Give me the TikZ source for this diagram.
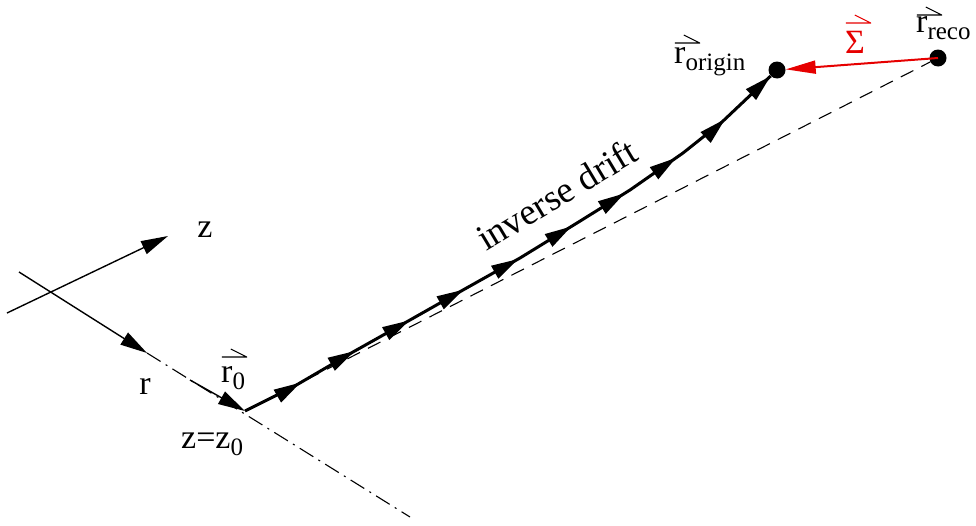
\documentclass[tikz,border=0pt]{standalone}
\usepackage{fontspec}
\setmainfont{Liberation Serif}
\usepackage{xcolor}
\definecolor{sigmared}{RGB}{230, 0, 0}
\usepackage{tikz}
\usetikzlibrary{arrows.meta, decorations.markings}
% harpoon over a letter: [colour]{height}{letter}
\newcommand{\hvec}[3][black]{\makebox[0pt][l]{\tikz[x=1pt, y=1pt, baseline=0pt]{\path (0,0); \draw[#1, line width=1.1pt, line join=round] (0,#2) -- (25,#2) -- (9,#2+8);}}#3}
\newcommand{\sub}[1]{\raisebox{-7pt}{\fontsize{25}{25}\selectfont #1}}

\begin{document}
\begin{tikzpicture}[x=1pt, y=-1pt,
      lbl/.style={inner sep=0pt, font=\fontsize{34}{40}\selectfont},
      axis/.style={line width=1.4pt, -{Triangle[length=27pt, width=14pt]}},
      drift/.style={line width=3pt, postaction={decorate}, decoration={markings,
          mark=between positions 0.1 and 0.95 step 0.1 with {\arrow{Triangle[length=27pt, width=14pt]}},
          mark=at position 1 with {\arrow{Triangle[length=27pt, width=14pt]}}}},
      guide/.style={line width=1.1pt, dash pattern=on 14pt off 9pt},
      dashdot/.style={line width=1.1pt, dash pattern=on 16pt off 6pt on 2pt off 6pt},
      dot/.style={circle, fill=black, inner sep=0pt, minimum size=17pt},
      sigarr/.style={line width=2pt, sigmared, -{Triangle[length=30pt, width=13pt]}}
  ]
    \useasboundingbox (0,0) rectangle (976,525);

    % Axes
    \coordinate (zstart) at (7,313);
    \coordinate (zend) at (168,236);
    \coordinate (rstart) at (19,272);
    \coordinate (rend) at (147,353);
    \coordinate (rfar) at (410,517);
    \coordinate (rvec) at (190,380);
    \coordinate (r0) at (245,411);
    \draw[axis] (zstart) -- (zend);
    \draw[axis] (rstart) -- (rend);
    \draw[dashdot] (rend) -- (rfar);
    \draw[axis] (rvec) -- (r0);

    % Points
    \node[dot] (origin) at (777,70) {};
    \node[dot] (reco) at (938,58) {};

    % Drift path
    \coordinate (d1) at (293,387);
    \coordinate (d2) at (353,352);
    \coordinate (d3) at (410,320);
    \coordinate (d4) at (463,290);
    \coordinate (d5) at (520,258);
    \coordinate (d6) at (577,223);
    \coordinate (d7) at (630,190);
    \coordinate (d8) at (683,153);
    \coordinate (d9) at (722,122);
    \draw[drift] (r0) -- (d1) -- (d2) -- (d3) -- (d4) -- (d5) -- (d6) -- (d7) -- (d8) -- (d9) -- (origin);

    % Straight line and correction
    \draw[guide] (r0) -- (reco);
    \draw[sigarr] (reco.center) -- (origin);

    % Labels
    \node[lbl] (zlbl) at (205,230) {z};
    \node[lbl] (rlbl) at (145,386) {r};
    \node[lbl, anchor=base west] (r0lbl) at (221,382) {\hvec{25}{r}\sub{0}};
    \node[lbl, anchor=base west] (zzlbl) at (181,448) {z=z\sub{0}};
    \node[lbl, rotate=31, anchor=base west, font=\fontsize{37}{40}\selectfont] (driftlbl) at (486,252) {inverse drift};
    \node[lbl, anchor=base west] (originlbl) at (674,63) {\hvec{20}{r}\sub{origin}};
    \node[lbl, anchor=base west] (recolbl) at (916,32) {\hvec{17}{r}\sub{reco}};
    \node[lbl, anchor=base west, text=sigmared] (siglbl) at (845,53) {\hvec[sigmared]{30}{Σ}};
  \end{tikzpicture}
\end{document}
